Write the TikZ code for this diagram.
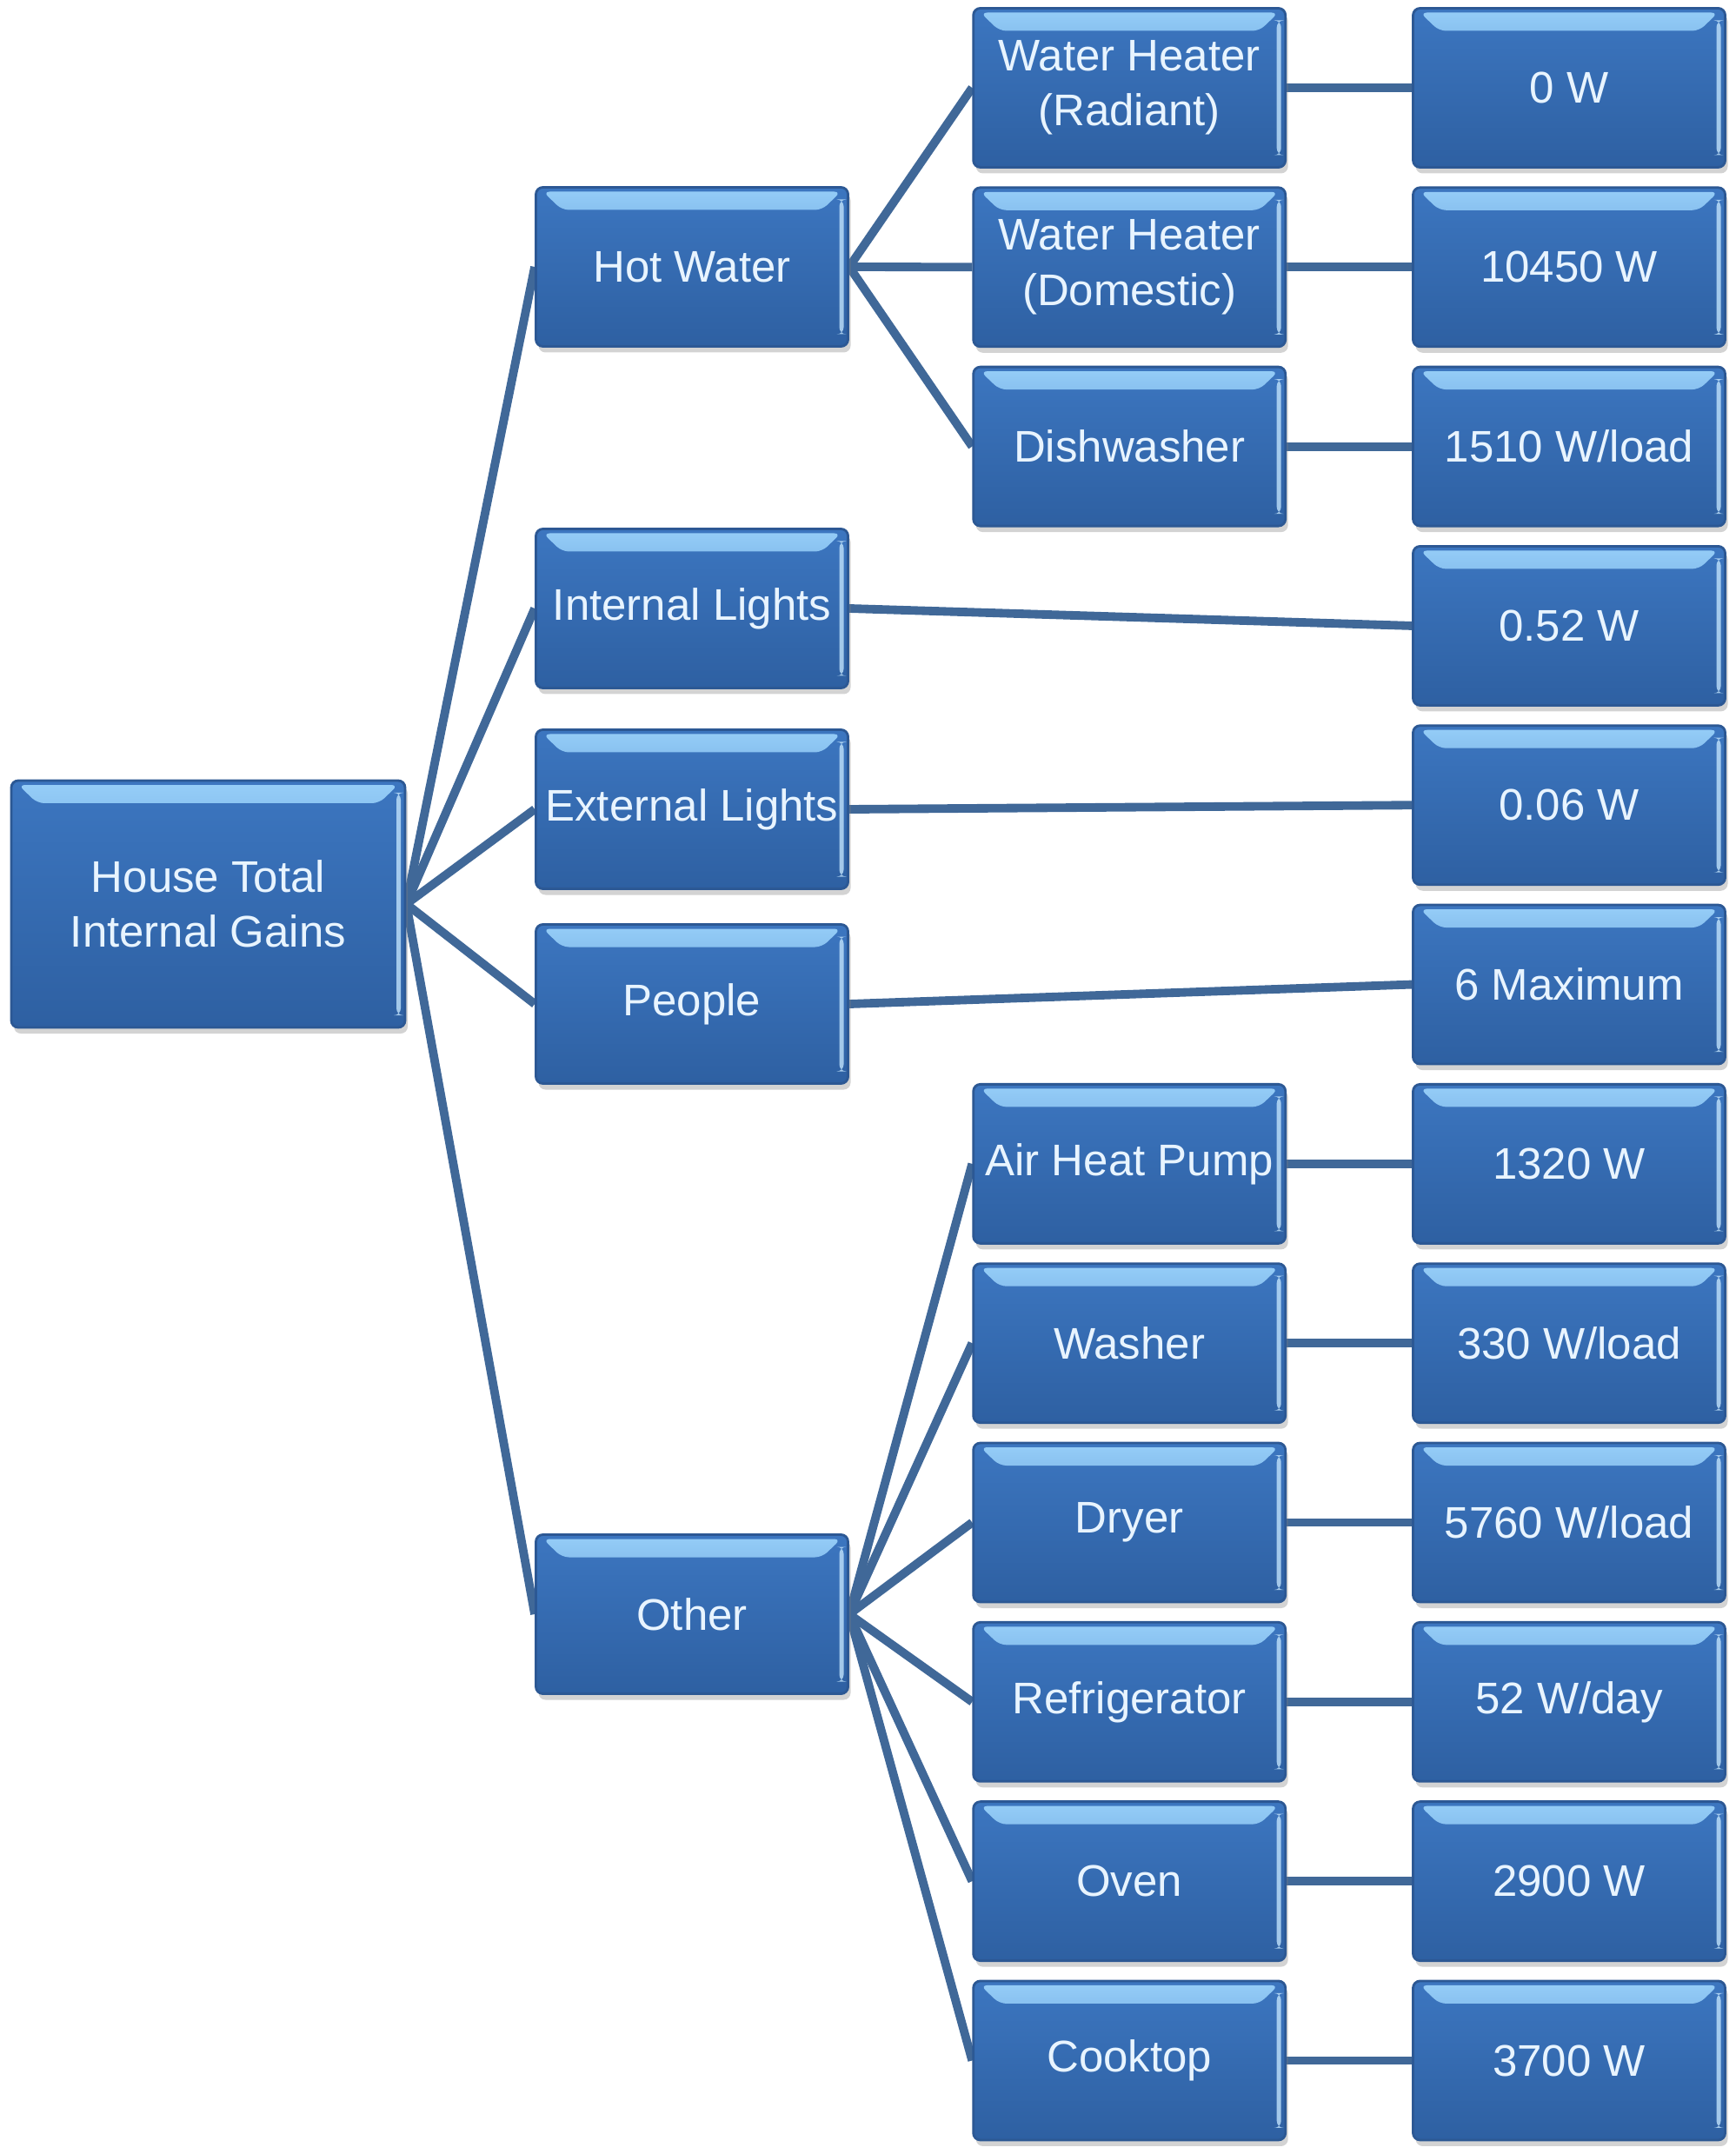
\documentclass[tikz,border=0pt]{standalone}
\usepackage{fontspec}
\setmainfont{Liberation Sans}
\usepackage{xcolor}
\usepackage{tikz}
\usetikzlibrary{positioning, shadows, backgrounds}

\definecolor{boxtop}{RGB}{60,118,192}
\definecolor{boxbot}{RGB}{46,96,162}
\definecolor{boxline}{RGB}{44,88,148}
\definecolor{hilite}{RGB}{150,206,248}
\definecolor{linkcol}{RGB}{64,104,152}
\definecolor{txtcol}{RGB}{232,244,255}

\begin{document}
\begin{tikzpicture}[node distance=0.205cm,
            box/.style={draw=boxline, line width=0.8pt, rectangle, rounded corners=0.08cm,
                top color=boxtop, bottom color=boxbot,
                minimum width=3.59cm, minimum height=1.83cm, inner sep=0pt,
                align=center, text=txtcol, font=\fontsize{14.5}{18}\selectfont,
                drop shadow={shadow xshift=0.03cm, shadow yshift=-0.07cm, opacity=0.35},
                path picture={
                    \shade[top color=hilite, bottom color=boxtop]
                        ([xshift=0.08cm,yshift=-0.05cm]path picture bounding box.north west) --
                        ([xshift=-0.08cm,yshift=-0.05cm]path picture bounding box.north east) --
                        ([xshift=-0.3cm,yshift=-0.26cm]path picture bounding box.north east) --
                        ([xshift=0.3cm,yshift=-0.26cm]path picture bounding box.north west) -- cycle;
                    \fill[hilite!60!white, opacity=0.8]
                        ([xshift=-0.1cm,yshift=-0.14cm]path picture bounding box.north east) rectangle
                        ([xshift=-0.05cm,yshift=0.14cm]path picture bounding box.south east);
                }},
            link/.style={draw=linkcol, line width=2.8pt}]

            \useasboundingbox (0,0) rectangle (19.96,-24.78);

            % ===== root and first level =====
            \node[box, minimum width=4.53cm, minimum height=2.84cm] (root) at (2.395,-10.40) {House Total\\Internal Gains};
            \node[box] (hw) at (7.96,-3.07) {Hot Water};
            \node[box] (il) at (7.96,-7.00) {Internal Lights};
            \node[box] (el) at (7.96,-9.31) {External Lights};
            \node[box] (ppl) at (7.96,-11.55) {People};
            \node[box] (oth) at (7.96,-18.57) {Other};

            % ===== values column =====
            \node[box] (vwhr) at (18.05,-1.01) {0 W};
            \node[box, below=of vwhr] (vwhd) {10450 W};
            \node[box, below=of vwhd] (vdw) {1510 W/load};
            \node[box, below=of vdw] (vil) {0.52 W};
            \node[box, below=of vil] (vel) {0.06 W};
            \node[box, below=of vel] (vppl) {6 Maximum};
            \node[box, below=of vppl] (vahp) {1320 W};
            \node[box, below=of vahp] (vwsh) {330 W/load};
            \node[box, below=of vwsh] (vdry) {5760 W/load};
            \node[box, below=of vdry] (vref) {52 W/day};
            \node[box, below=of vref] (vovn) {2900 W};
            \node[box, below=of vovn] (vckt) {3700 W};

            % ===== second level =====
            \node[box, left=1.44cm of vwhr] (whr) {Water Heater\\(Radiant)};
            \node[box, left=1.44cm of vwhd] (whd) {Water Heater\\(Domestic)};
            \node[box, left=1.44cm of vdw] (dw) {Dishwasher};
            \node[box, left=1.44cm of vahp] (ahp) {Air Heat Pump};
            \node[box, left=1.44cm of vwsh] (wsh) {Washer};
            \node[box, left=1.44cm of vdry] (dry) {Dryer};
            \node[box, left=1.44cm of vref] (ref) {Refrigerator};
            \node[box, left=1.44cm of vovn] (ovn) {Oven};
            \node[box, left=1.44cm of vckt] (ckt) {Cooktop};

            % ===== connectors =====
            \begin{scope}[on background layer]
            \draw[link] (root.east) -- (hw.west);
            \draw[link] (root.east) -- (il.west);
            \draw[link] (root.east) -- (el.west);
            \draw[link] (root.east) -- (ppl.west);
            \draw[link] (root.east) -- (oth.west);

            \draw[link] (hw.east) -- (whr.west);
            \draw[link] (hw.east) -- (whd.west);
            \draw[link] (hw.east) -- (dw.west);
            \draw[link] (oth.east) -- (ahp.west);
            \draw[link] (oth.east) -- (wsh.west);
            \draw[link] (oth.east) -- (dry.west);
            \draw[link] (oth.east) -- (ref.west);
            \draw[link] (oth.east) -- (ovn.west);
            \draw[link] (oth.east) -- (ckt.west);

            \draw[link] (il.east) -- (vil.west);
            \draw[link] (el.east) -- (vel.west);
            \draw[link] (ppl.east) -- (vppl.west);

            \draw[link] (whr.east) -- (vwhr.west);
            \draw[link] (whd.east) -- (vwhd.west);
            \draw[link] (dw.east) -- (vdw.west);
            \draw[link] (ahp.east) -- (vahp.west);
            \draw[link] (wsh.east) -- (vwsh.west);
            \draw[link] (dry.east) -- (vdry.west);
            \draw[link] (ref.east) -- (vref.west);
            \draw[link] (ovn.east) -- (vovn.west);
            \draw[link] (ckt.east) -- (vckt.west);
            \end{scope}
        \end{tikzpicture}
\end{document}
